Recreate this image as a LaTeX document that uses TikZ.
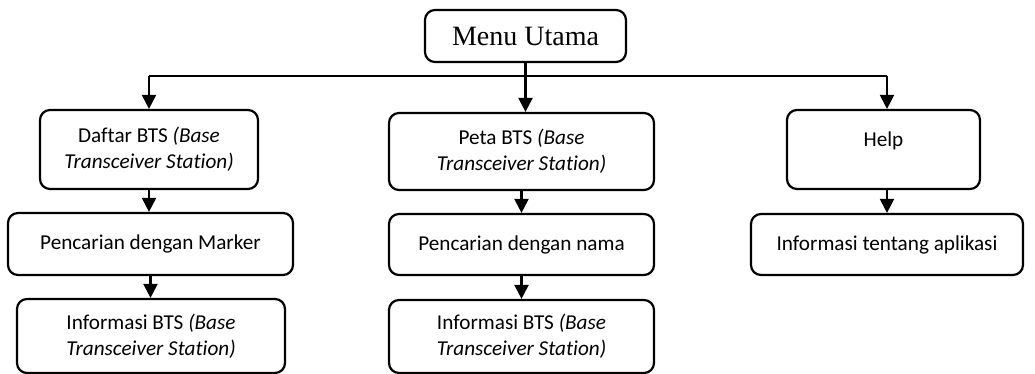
\documentclass[tikz,border=0pt]{standalone}
\usepackage{fontspec}
\setmainfont[Ligatures=NoCommon]{Carlito}
\newfontfamily\menufont{Liberation Serif}
\usetikzlibrary{arrows.meta}

\begin{document}
\begin{tikzpicture}[x=0.5pt, y=-0.5pt, line width=1.1pt,
    >={Triangle[length=7pt, width=7pt]},
    menubox/.style={draw, rounded corners=5pt, align=center, inner sep=2pt,
      font=\fontsize{10.6}{13}\selectfont}]
  \useasboundingbox (0,0) rectangle (1035,374);

  % root
  \node[menubox, minimum width=100.5pt, minimum height=26pt,
    font=\menufont\fontsize{14}{16}\selectfont] (menu) at (525.5,36) {Menu Utama};

  % first level
  \node[menubox, minimum width=109pt, minimum height=39.5pt] (daftar) at (149,149.5)
    {Daftar BTS \textit{(Base}\\\textit{Transceiver Station)}};
  \node[menubox, minimum width=132.5pt, minimum height=38.5pt] (peta) at (521.5,151.5)
    {Peta BTS \textit{(Base}\\\textit{Transceiver Station)}};
  \node[menubox, minimum width=96.5pt, minimum height=39.5pt, text depth=10pt] (help) at (883.5,149.5)
    {Help};

  % second level
  \node[menubox, minimum width=142.5pt, minimum height=31pt] (cariMarker) at (150.5,244)
    {Pencarian dengan Marker};
  \node[menubox, minimum width=132.5pt, minimum height=30.5pt] (cariNama) at (521.5,244.5)
    {Pencarian dengan nama};
  \node[menubox, minimum width=136pt, minimum height=30.5pt] (aplikasi) at (887,244.5)
    {Informasi tentang aplikasi};

  % third level
  \node[menubox, minimum width=134pt, minimum height=37pt] (infoKiri) at (151,336)
    {Informasi BTS \textit{(Base}\\\textit{Transceiver Station)}};
  \node[menubox, minimum width=132.5pt, minimum height=36.5pt] (infoTengah) at (521.5,336.5)
    {Informasi BTS \textit{(Base}\\\textit{Transceiver Station)}};

  % connectors
  \coordinate (bus) at (524,76);
  \draw (bus -| daftar.north) -- (bus -| aplikasi.north);
  \draw[->] (bus -| daftar.north) -- (daftar.north);
  \draw[->] (bus -| aplikasi.north) -- (aplikasi.north |- help.north);
  \draw[->] (menu.south) -- (menu.south |- peta.north);

  \draw[->] (daftar.south) -- (daftar.south |- cariMarker.north);
  \draw[->] (cariMarker.south) -- (cariMarker.south |- infoKiri.north);
  \draw[->] (peta.south) -- (peta.south |- cariNama.north);
  \draw[->] (cariNama.south) -- (cariNama.south |- infoTengah.north);
  \draw[->] (aplikasi.north |- help.south) -- (aplikasi.north);
\end{tikzpicture}
\end{document}
